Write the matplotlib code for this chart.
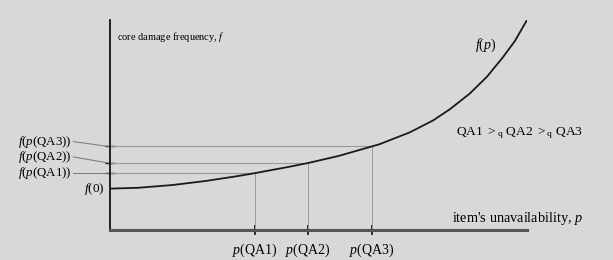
import matplotlib
matplotlib.use("Agg")
import matplotlib.pyplot as plt

# curve f(p) (p and f in axis fractions)
curve_p = [0.0, 0.067, 0.149, 0.228, 0.307, 0.348, 0.427, 0.475, 0.547, 0.628,
           0.647, 0.719, 0.775, 0.815, 0.863, 0.904, 0.942, 0.971, 1.0]
curve_f = [0.197, 0.201, 0.214, 0.233, 0.257, 0.271, 0.300, 0.319, 0.352, 0.398,
           0.409, 0.465, 0.522, 0.575, 0.650, 0.730, 0.822, 0.900, 1.0]

qa_p = [0.348, 0.475, 0.628]
qa_f = [0.271, 0.319, 0.398]
qa_xlabels = ["$p$(QA1)", "$p$(QA2)", "$p$(QA3)"]
qa_ylabels = ["$f$($p$(QA1))", "$f$($p$(QA2))", "$f$($p$(QA3))"]
qa_label_f = [0.271, 0.348, 0.421]
f0 = 0.197

plt.rcParams["mathtext.fontset"] = "custom"
plt.rcParams["mathtext.rm"] = "Liberation Serif"
plt.rcParams["mathtext.it"] = "Liberation Serif:italic"
plt.rcParams["font.family"] = "Liberation Serif"

bg = "#d8d8d8"
fig = plt.figure(figsize=(6.13, 2.6), dpi=100, facecolor=bg)
ax = fig.add_axes([110 / 613, 30 / 260, 417 / 613, 210 / 260])
ax.set_facecolor(bg)
ax.set_xlim(0, 1)
ax.set_ylim(0, 1)

for s in ["top", "right"]:
    ax.spines[s].set_visible(False)
ax.spines["left"].set_linewidth(1.3)
ax.spines["left"].set_color("#111111")
ax.spines["bottom"].set_linewidth(2.2)
ax.spines["bottom"].set_color("#555555")

# guide lines
for p, f in zip(qa_p, qa_f):
    ax.plot([0, p], [f, f], color="#9a9a9a", lw=0.8)
    ax.plot([p, p], [0, f], color="#9a9a9a", lw=0.7)

ax.plot(curve_p, curve_f, color="#1a1a1a", lw=1.3)

ax.set_xticks(qa_p)
ax.set_xticklabels(qa_xlabels, fontsize=10)
ax.tick_params(axis="x", direction="inout", length=7, width=1.2, pad=5, color="#111111")
ax.set_yticks(qa_f)
ax.set_yticklabels([])
ax.tick_params(axis="y", direction="inout", length=7, width=1.0, color="#111111")

# left labels with leader lines
for lf, f, lab in zip(qa_label_f, qa_f, qa_ylabels):
    ax.text(-0.092, lf, lab, ha="right", va="center", fontsize=9.3, clip_on=False)
    ax.plot([-0.088, -0.004], [lf, f], color="#777777", lw=0.7, clip_on=False)
ax.text(-0.012, f0, "$f$(0)", ha="right", va="center", fontsize=9.5, clip_on=False)

ax.text(0.017, 0.92, "core damage frequency, $f$", fontsize=7.5, va="center")
ax.text(0.875, 0.88, "$f$($p$)", fontsize=10, va="center")
ax.text(0.83, 0.46, r"QA1 $>_{\mathrm{q}}$ QA2 $>_{\mathrm{q}}$ QA3", fontsize=9.7, va="center", clip_on=False)
ax.text(0.82, 0.057, "item's unavailability, $p$", fontsize=10.3, va="center", clip_on=False)

fig.savefig("out.png", dpi=100, facecolor=bg)
